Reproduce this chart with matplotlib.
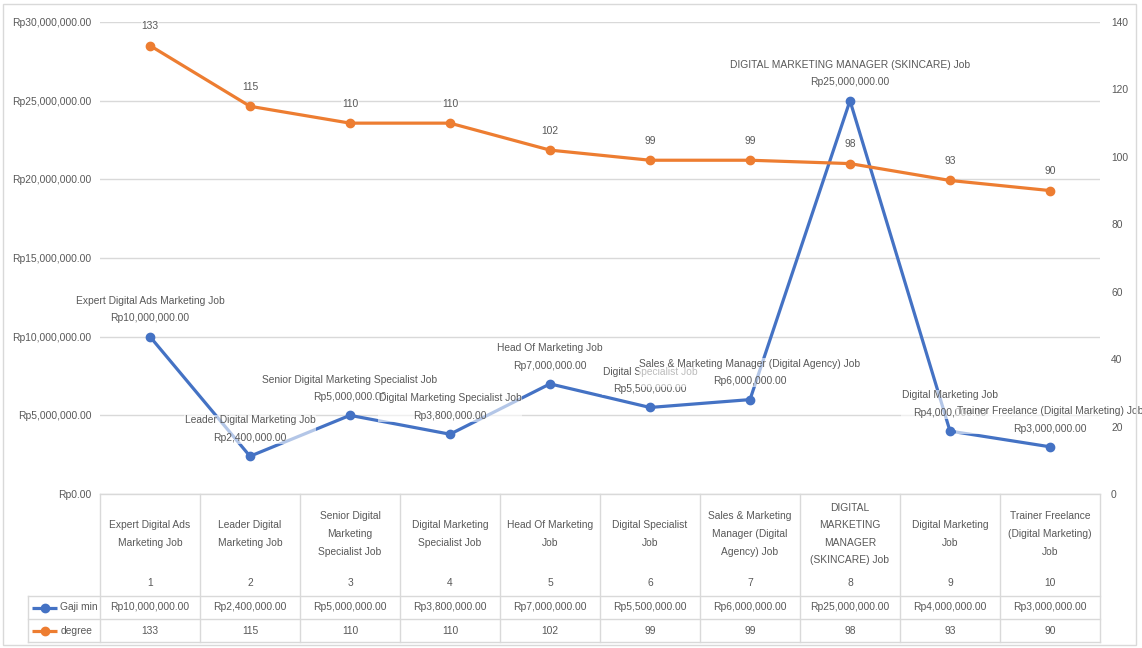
import matplotlib.pyplot as plt
from matplotlib.patches import Rectangle
from matplotlib.ticker import FuncFormatter

jobs = [
    "Expert Digital Ads Marketing Job",
    "Leader Digital Marketing Job",
    "Senior Digital Marketing Specialist Job",
    "Digital Marketing Specialist Job",
    "Head Of Marketing Job",
    "Digital Specialist Job",
    "Sales & Marketing Manager (Digital Agency) Job",
    "DIGITAL MARKETING MANAGER (SKINCARE) Job",
    "Digital Marketing Job",
    "Trainer Freelance (Digital Marketing) Job",
]
# wrapped versions for the data table header
job_cells = [
    "Expert Digital Ads\nMarketing Job",
    "Leader Digital\nMarketing Job",
    "Senior Digital\nMarketing\nSpecialist Job",
    "Digital Marketing\nSpecialist Job",
    "Head Of Marketing\nJob",
    "Digital Specialist\nJob",
    "Sales & Marketing\nManager (Digital\nAgency) Job",
    "DIGITAL\nMARKETING\nMANAGER\n(SKINCARE) Job",
    "Digital Marketing\nJob",
    "Trainer Freelance\n(Digital Marketing)\nJob",
]
gaji_min = [10000000, 2400000, 5000000, 3800000, 7000000,
            5500000, 6000000, 25000000, 4000000, 3000000]
degree = [133, 115, 110, 110, 102, 99, 99, 98, 93, 90]

BLUE = "#4472C4"
ORANGE = "#ED7D31"
GRAY = "#595959"
GRID = "#D9D9D9"

plt.rcParams["font.family"] = ["Liberation Sans", "DejaVu Sans"]
plt.rcParams["font.size"] = 7.4


def rp(v):
    return f"Rp{v:,.2f}"


W, H = 1142, 648
fig = plt.figure(figsize=(W / 100, H / 100), dpi=100)


def box(x0, y0, x1, y1):
    # pixel box (top-left origin) -> figure fraction
    return [x0 / W, 1 - y1 / H, (x1 - x0) / W, (y1 - y0) / H]


x = list(range(1, len(jobs) + 1))

ax = fig.add_axes(box(100, 22, 1100, 494))
ax2 = ax.twinx()
for a in (ax, ax2):
    for s in a.spines.values():
        s.set_visible(False)
    a.set_xlim(0.5, 10.5)
    a.set_xticks([])
    a.tick_params(length=0, labelsize=7.4, labelcolor=GRAY)

ax.set_ylim(0, 30000000)
ax.set_yticks(range(0, 30000001, 5000000))
ax.yaxis.set_major_formatter(FuncFormatter(lambda v, p: rp(v)))
ax.tick_params(axis="y", pad=6)
ax.grid(axis="y", color=GRID, lw=1)
ax.set_axisbelow(True)

ax2.set_ylim(0, 140)
ax2.set_yticks(range(0, 141, 20))
ax2.tick_params(axis="y", pad=8)

ax.plot(x, gaji_min, color=BLUE, lw=2.3, marker="o", ms=6, zorder=3)
ax2.plot(x, degree, color=ORANGE, lw=2.3, marker="o", ms=6, zorder=3)

label_box = dict(fc="white", ec="none", alpha=0.6, pad=0.5)
for xi, v, name in zip(x, gaji_min, jobs):
    ax.annotate(f"{name}\n{rp(v)}", (xi, v), xytext=(0, 9.5),
                textcoords="offset points", ha="center", va="bottom",
                color=GRAY, linespacing=1.95, bbox=label_box,
                annotation_clip=False, zorder=5)
for xi, d in zip(x, degree):
    ax2.annotate(str(d), (xi, d), xytext=(0, 10.5), textcoords="offset points",
                 ha="center", va="bottom", color=GRAY, bbox=label_box,
                 annotation_clip=False, zorder=5)

# data table under the plot
tab = fig.add_axes(box(28, 494, 1100, 642))
tab.set_xlim(-0.22, 10.5)
tab.set_ylim(642, 494)
tab.axis("off")
lk = dict(color=GRID, lw=1, clip_on=False)
tab.plot([0.5, 10.5], [494, 494], **lk)
for yy in (596, 619, 642):
    tab.plot([-0.22, 10.5], [yy, yy], **lk)
for k in range(11):
    tab.plot([0.5 + k, 0.5 + k], [494, 642], **lk)
tab.plot([-0.22, -0.22], [596, 642], **lk)

for xi, cell in zip(x, job_cells):
    tab.text(xi, 534, cell, ha="center", va="center", color=GRAY, linespacing=1.95)
    tab.text(xi, 583, str(xi), ha="center", va="center", color=GRAY)
for xi, v, d in zip(x, gaji_min, degree):
    tab.text(xi, 607.5, rp(v), ha="center", va="center", color=GRAY)
    tab.text(xi, 630.5, str(d), ha="center", va="center", color=GRAY)

# legend keys inside the table
for yy, col, name in ((607.5, BLUE, "Gaji min"), (630.5, ORANGE, "degree")):
    tab.plot([-0.18, 0.07], [yy, yy], color=col, lw=2.3,
             solid_capstyle="butt", clip_on=False)
    tab.plot([-0.055], [yy], color=col, marker="o", ms=6, clip_on=False)
    tab.text(0.105, yy, name, ha="left", va="center", color=GRAY)

fig.add_artist(Rectangle((3 / W, 3 / H), 1133 / W, 641 / H,
                         transform=fig.transFigure, fill=False, ec=GRID, lw=1))

fig.savefig("out.png", dpi=100)
